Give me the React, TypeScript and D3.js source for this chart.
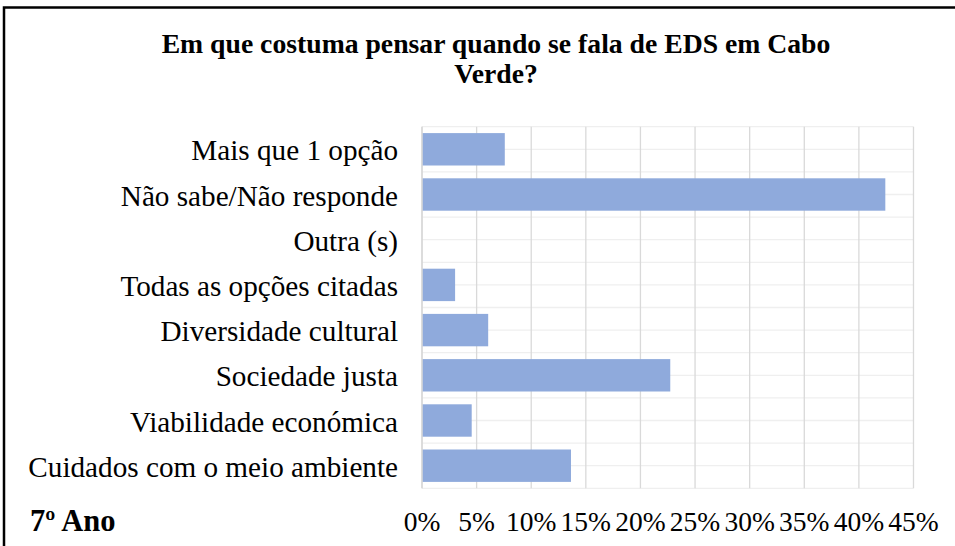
import React from "react";
import * as d3 from "d3";

const categories = [
  "Mais que 1 opção",
  "Não sabe/Não responde",
  "Outra (s)",
  "Todas as opções citadas",
  "Diversidade cultural",
  "Sociedade justa",
  "Viabilidade económica",
  "Cuidados com o meio ambiente",
];
const values = [7.58, 42.42, 0, 3.03, 6.06, 22.73, 4.55, 13.64];
const tickValues = [0, 5, 10, 15, 20, 25, 30, 35, 40, 45];
const titleLines = ["Em que costuma pensar quando se fala de EDS em Cabo", "Verde?"];
const cornerLabel = "7º Ano";

const W = 955;
const H = 546;
const plot = { left: 422, right: 913.5, top: 126.7, bottom: 488.3 };
const FONT = "'Liberation Serif', 'Times New Roman', serif";

export default function App() {
  const x = d3.scaleLinear().domain([0, 45]).range([plot.left, plot.right]);
  const y = d3
    .scaleBand<string>()
    .domain(categories)
    .range([plot.top, plot.bottom])
    .paddingInner(0.283)
    .paddingOuter(0.1415);
  const step = (plot.bottom - plot.top) / categories.length;
  const hLines = d3.range(0, categories.length * 2 + 1).map((i) => plot.top + (i * step) / 2);

  return (
    <svg
      width={W}
      height={H}
      style={{ position: "absolute", left: 0, top: 0, background: "#fff" }}
    >
      <rect x={0} y={0} width={W} height={H} fill="#fff" />
      <rect x={4} y={7.5} width={W + 10} height={H + 10} fill="none" stroke="#000" strokeWidth={2.5} />
      <g fontFamily={FONT} fontWeight="bold" fontSize={27.7} textAnchor="middle" fill="#000">
        {titleLines.map((t, i) => (
          <text key={i} x={496} y={53 + i * 30}>
            {t}
          </text>
        ))}
      </g>
      {/* horizontal half-category gridlines */}
      {hLines.map((yy, i) => (
        <line key={"h" + i} x1={plot.left} x2={plot.right} y1={yy} y2={yy} stroke="#efefef" strokeWidth={1.3} />
      ))}
      {/* vertical gridlines */}
      {tickValues.map((t) => (
        <line key={"v" + t} x1={x(t)} x2={x(t)} y1={plot.top} y2={plot.bottom} stroke="#d9d9d9" strokeWidth={1.3} />
      ))}
      {/* bars */}
      {categories.map((c, i) => (
        <rect
          key={c}
          x={x(0)}
          y={y(c)}
          width={x(values[i]) - x(0)}
          height={y.bandwidth()}
          fill="#8FAADC"
        />
      ))}
      <line x1={plot.left} x2={plot.left} y1={plot.top} y2={plot.bottom} stroke="#d9d9d9" strokeWidth={1.5} />
      {/* category labels */}
      <g fontFamily={FONT} fontSize={29.2} textAnchor="end" fill="#000">
        {categories.map((c) => (
          <text key={c} x={398} y={(y(c) as number) + y.bandwidth() / 2 + 1} dominantBaseline="central">
            {c}
          </text>
        ))}
      </g>
      {/* x tick labels */}
      <g fontFamily={FONT} fontSize={27.5} textAnchor="middle" fill="#000">
        {tickValues.map((t) => (
          <text key={t} x={x(t)} y={531}>
            {t + "%"}
          </text>
        ))}
      </g>
      <text x={30} y={531} fontFamily={FONT} fontSize={30.5} fontWeight="bold" fill="#000">
        {cornerLabel}
      </text>
    </svg>
  );
}
